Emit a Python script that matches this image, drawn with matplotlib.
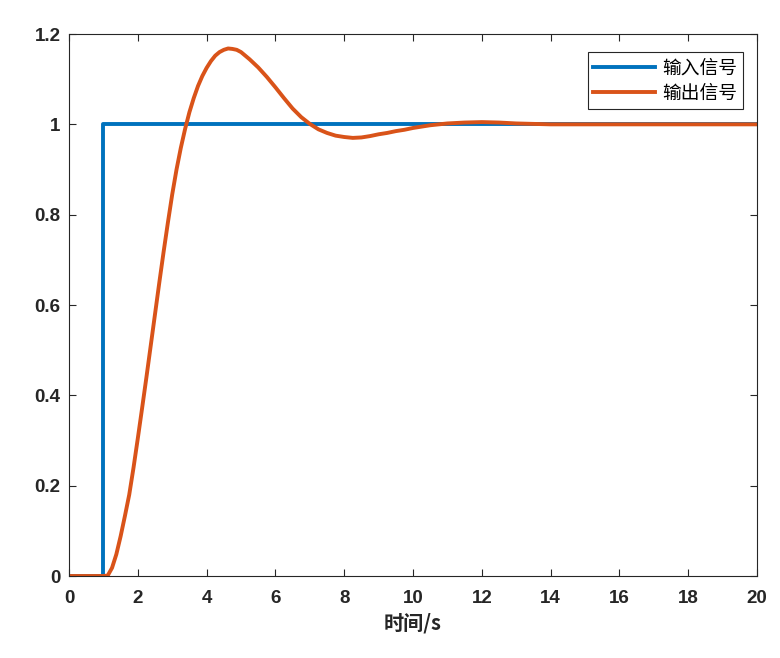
import numpy as np
import matplotlib
matplotlib.use('Agg')
import matplotlib.pyplot as plt

# ── Data ─────────────────────────────────────────────────────────────────────
t_in = [0, 1, 1, 20]
y_in = [0, 0, 1, 1]

t_out = [0, 1.0, 1.125, 1.25, 1.375, 1.5, 1.625, 1.75, 1.875, 2.0, 2.125,
         2.25, 2.375, 2.5, 2.625, 2.75, 2.875, 3.0, 3.125, 3.25, 3.375, 3.5,
         3.625, 3.75, 3.875, 4.0, 4.125, 4.25, 4.375, 4.5, 4.625, 4.75,
         4.875, 5.0, 5.25, 5.5, 5.75, 6.0, 6.25, 6.5, 6.75, 7.0, 7.25, 7.5,
         7.75, 8.0, 8.25, 8.5, 8.75, 9.0, 9.25, 9.5, 9.75, 10.0, 10.5, 11.0,
         11.5, 12.0, 12.5, 13.0, 13.5, 14.0, 16.0, 18.0, 20.0]
y_out = [0, 0, 0.001, 0.018, 0.048, 0.088, 0.133, 0.18, 0.24, 0.305, 0.372,
         0.44, 0.51, 0.58, 0.65, 0.718, 0.783, 0.845, 0.9, 0.948, 0.99, 1.027,
         1.058, 1.085, 1.107, 1.125, 1.14, 1.152, 1.16, 1.165, 1.168, 1.167,
         1.165, 1.160, 1.144, 1.126, 1.105, 1.082, 1.058, 1.035, 1.016, 1.001,
         0.989, 0.981, 0.975, 0.972, 0.970, 0.971, 0.974, 0.978, 0.981,
         0.985, 0.988, 0.992, 0.998, 1.002, 1.004, 1.005, 1.004, 1.002,
         1.001, 1.0, 1.0, 1.0, 1.0]

labels = ['输入信号', '输出信号']
xticks = np.arange(0, 21, 2)
yticks = [0, 0.2, 0.4, 0.6, 0.8, 1, 1.2]

plt.rcParams['font.family'] = ['Liberation Sans', 'Noto Sans CJK SC', 'DejaVu Sans']

fig = plt.figure(figsize=(7.8, 6.58), dpi=100)
ax = fig.add_axes([0.0885, 0.1246, 0.882, 0.8237])

ax.plot(t_in, y_in, color='#0072BD', lw=2.8, label=labels[0])
ax.plot(t_out, y_out, color='#D95319', lw=2.8, label=labels[1])

ax.set_xlim(0, 20)
ax.set_ylim(0, 1.2)
ax.set_xticks(xticks)
ax.set_yticks(yticks)
ax.set_xticklabels([f'{v:g}' for v in xticks], fontsize=13.5, fontweight='bold')
ax.set_yticklabels([f'{v:g}' for v in yticks], fontsize=13.5, fontweight='bold')
ax.tick_params(direction='in', top=True, right=True, length=5, width=0.8,
               color='#262626', labelcolor='#262626')
ax.tick_params(axis='x', pad=10)
ax.tick_params(axis='y', pad=6)
for s in ax.spines.values():
    s.set_color('#262626')
    s.set_linewidth(0.8)

ax.set_xlabel('时间/s', fontsize=14.5, fontweight='bold', color='#262626',
              family=['Noto Sans CJK SC', 'DejaVu Sans'], labelpad=4)

leg = ax.legend(loc='upper right', bbox_to_anchor=(0.98, 0.967), borderaxespad=0,
                fancybox=False, edgecolor='#262626', framealpha=1,
                handlelength=3.3,
                prop={'family': ['Noto Sans CJK SC', 'DejaVu Sans'], 'size': 13.5},
                borderpad=0.3, labelspacing=0.22, handletextpad=0.4)
leg.get_frame().set_linewidth(0.8)

fig.savefig('out.png', dpi=100)
